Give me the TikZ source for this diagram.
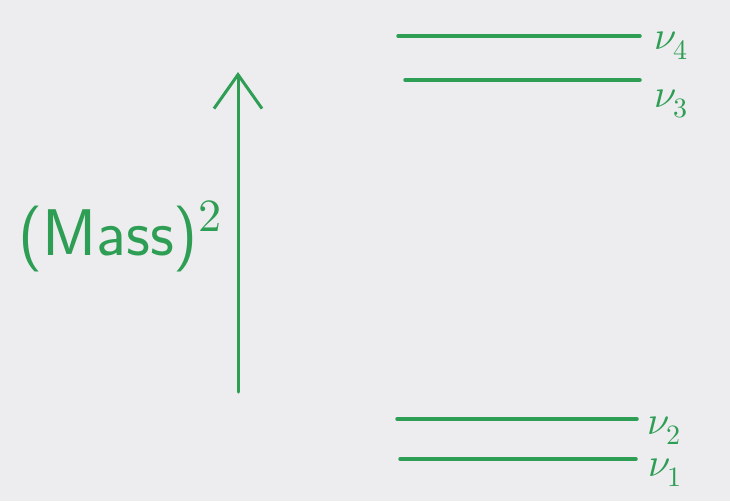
\documentclass[tikz,border=0pt]{standalone}
\usepackage{unicode-math}
\usetikzlibrary{arrows.meta}
\definecolor{bg}{HTML}{EDEDEF}
\definecolor{pen}{HTML}{2E9E55}
\tikzset{
  level/.style={draw=pen, line width=3.5pt, line cap=round},
  lbl/.style={text=pen, anchor=west, inner sep=0pt, font=\fontsize{40}{40}\selectfont},
  axis/.style={draw=pen, line width=3pt, line cap=round, -{Straight Barb[length=34pt,width=48pt,line width=3pt]}},
}
\begin{document}
\begin{tikzpicture}[x=1pt,y=-1pt]
\fill[bg] (0,0) rectangle (730,501);
\useasboundingbox (0,0) rectangle (730,501);
% axis
\coordinate (ab) at (238,392);
\coordinate (at) at (238,72);
\draw[axis] (ab) -- (at);
\node[text=pen, inner sep=0pt, font=\sffamily\fontsize{66}{66}\selectfont] (mass) at (120,236) {(Mass)$^{2}$};
% levels
\coordinate (l4a) at (398,36);  \coordinate (l4b) at (640,36);
\coordinate (l3a) at (405,80);  \coordinate (l3b) at (640,80);
\coordinate (l2a) at (397,419); \coordinate (l2b) at (637,419);
\coordinate (l1a) at (400,459); \coordinate (l1b) at (636,459);
\draw[level] (l4a) -- (l4b);
\draw[level] (l3a) -- (l3b);
\draw[level] (l2a) -- (l2b);
\draw[level] (l1a) -- (l1b);
\node[lbl] (n4) at ([xshift=14pt,yshift=-10pt]l4b) {$\nu_4$};
\node[lbl] (n3) at ([xshift=14pt,yshift=-24pt]l3b) {$\nu_3$};
\node[lbl] (n2) at ([xshift=10pt,yshift=-12pt]l2b) {$\nu_2$};
\node[lbl] (n1) at ([xshift=12pt,yshift=-14pt]l1b) {$\nu_1$};
\end{tikzpicture}
\end{document}
